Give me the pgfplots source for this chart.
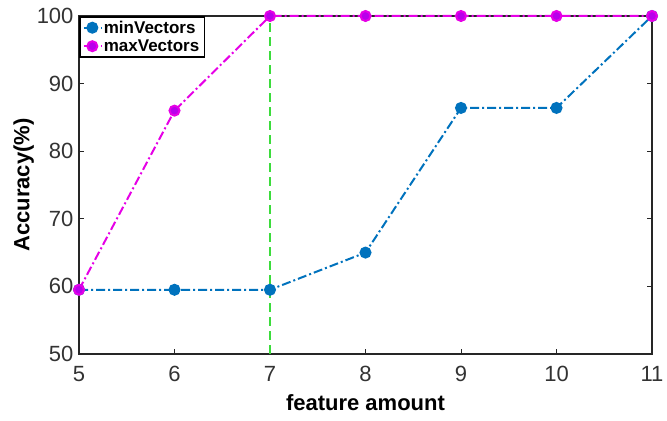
\documentclass[border=0pt]{standalone}
\usepackage{fontspec}
\setmainfont{Liberation Sans}
\usepackage{pgfplots}
\pgfplotsset{compat=1.18}
\definecolor{mblue}{RGB}{0,114,189}
\definecolor{mmag}{RGB}{230,0,230}
\definecolor{mgreen}{RGB}{60,220,60}
\begin{document}
\begin{tikzpicture}
\begin{axis}[
  scale only axis,
  width=573pt, height=338pt,
  xmin=5, xmax=11, ymin=50, ymax=100,
  xtick={5,6,7,8,9,10,11},
  ytick={50,60,70,80,90,100},
  /pgf/number format/assume math mode=true,
  tick label style={font=\fontsize{22}{24}\selectfont, black!80},
  xticklabel style={yshift=-9pt},
  yticklabel style={xshift=-2pt},
  xlabel={\textbf{feature amount}},
  ylabel={\textbf{Accuracy(\%)}},
  label style={font=\fontsize{22}{24}\selectfont},
  xlabel style={yshift=-6pt},
  ylabel style={yshift=-4pt},
  axis line style={line width=2pt, black!85},
  tick style={line width=1pt, black!85},
  major tick length=5pt,
  tick align=inside,
  legend style={font=\fontsize{17}{19}\selectfont\bfseries, draw=black, line width=1.6pt, inner xsep=3pt, inner ysep=2pt, row sep=1pt, at={(0,1)}, anchor=north west},
  legend cell align=left,
  legend image post style={line width=2pt},
  clip=false,
]
\addplot[mblue, line width=2pt, dash pattern=on 9pt off 3pt on 2pt off 3pt, mark=*, mark size=5pt, mark options={solid}]
  coordinates {(5,59.5) (6,59.5) (7,59.5) (8,65) (9,86.4) (10,86.4) (11,100)};
\addlegendentry{minVectors}
\addplot[mmag, line width=2pt, dash pattern=on 9pt off 3pt on 2pt off 3pt, mark=*, mark size=5pt, mark options={solid, fill=mmag!80!blue}]
  coordinates {(5,59.5) (6,86) (7,100) (8,100) (9,100) (10,100) (11,100)};
\addlegendentry{maxVectors}
\addplot[mgreen, line width=2pt, dash pattern=on 9pt off 5pt, forget plot] coordinates {(7,50) (7,100)};
\end{axis}
\pgfresetboundingbox
\path ([xshift=-79pt,yshift=-67pt]current axis.south west) rectangle ([xshift=15pt,yshift=16pt]current axis.north east);
\end{tikzpicture}
\end{document}
